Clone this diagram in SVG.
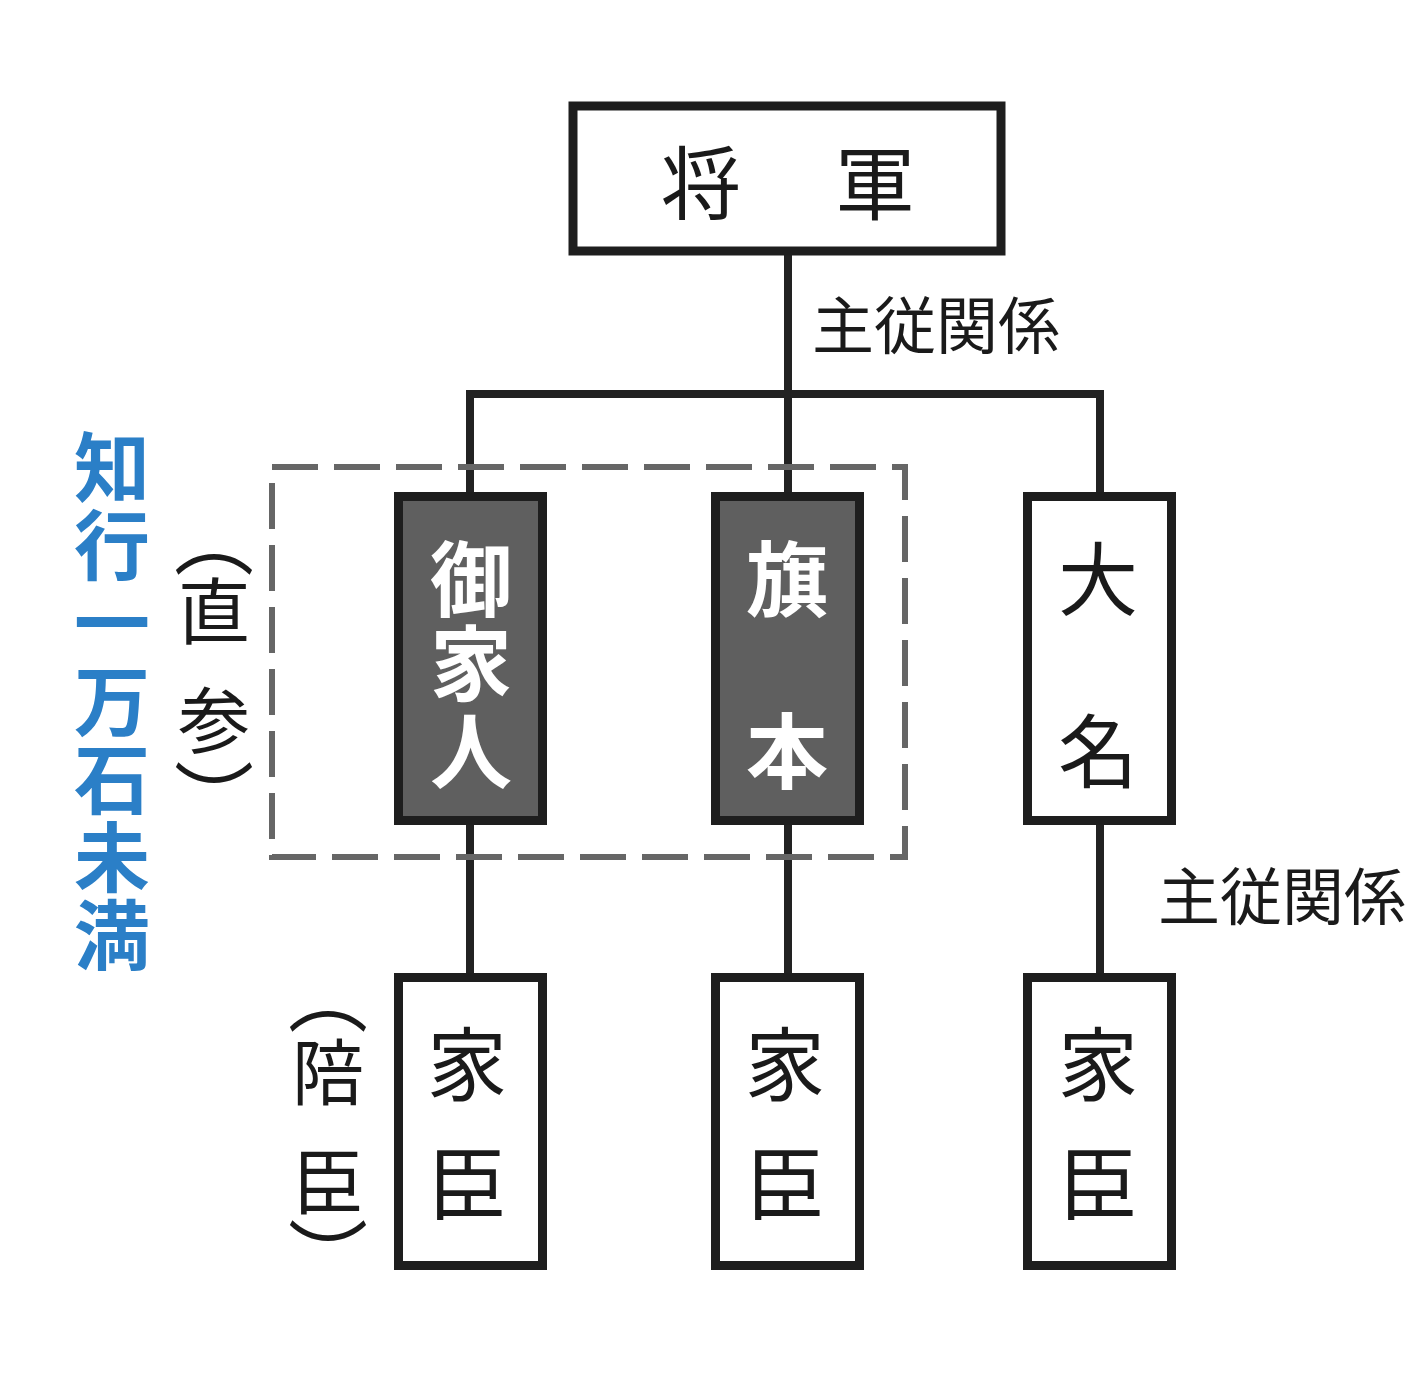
<svg xmlns="http://www.w3.org/2000/svg" width="1416" height="1400" viewBox="0 0 1416 1400">
<style>
.t{font-family:"Noto Sans CJK JP","Noto Sans CJK SC",sans-serif;text-anchor:middle;dominant-baseline:central}
.box{fill:#ffffff;stroke:#1e1e1e;stroke-width:9}
.dark{fill:#5f5f5f;stroke:#1e1e1e;stroke-width:9}
.bk{fill:#1a1a1a;font-size:80px}
.wh{fill:#ffffff;font-size:82px;font-weight:700}
.lbl{fill:#1a1a1a;font-size:62px}
.blue{fill:#2b7fc7;font-size:76px;font-weight:700}
.par{fill:#1a1a1a;font-size:72px}
.pa{fill:#1a1a1a;font-size:80px}
.conn line{stroke:#222;stroke-width:8}
</style>
<rect width="1416" height="1400" fill="#ffffff"/>
<g class="conn" id="connectors">
<line x1="788" y1="250" x2="788" y2="394"/>
<line x1="466" y1="394" x2="1104" y2="394"/>
<line x1="470" y1="390" x2="470" y2="494"/>
<line x1="788" y1="390" x2="788" y2="494"/>
<line x1="1100" y1="390" x2="1100" y2="494"/>
<line x1="470" y1="822" x2="470" y2="976"/>
<line x1="788" y1="822" x2="788" y2="976"/>
<line x1="1100" y1="822" x2="1100" y2="976"/>
</g>
<g id="jikisan-frame">
<rect x="272" y="467" width="633" height="390" fill="none" stroke="#666" stroke-width="6" stroke-dasharray="46 16"/>
</g>
<g id="shogun">
<rect class="box" x="573" y="106" width="428" height="145"/>
<text class="t bk" x="701" y="178" font-size="84">将</text>
<text class="t bk" x="875" y="178" font-size="84">軍</text>
</g>
<text class="t lbl" x="936" y="322">主従関係</text>
<g id="gokenin">
<rect class="dark" x="398.5" y="496.5" width="144" height="324"/>
<text class="t wh" x="471" y="574">御</text>
<text class="t wh" x="471" y="658">家</text>
<text class="t wh" x="471" y="746">人</text>
</g>
<g id="hatamoto">
<rect class="dark" x="715.5" y="496.5" width="144" height="324"/>
<text class="t wh" x="787" y="574">旗</text>
<text class="t wh" x="787" y="746">本</text>
</g>
<g id="daimyo">
<rect class="box" x="1027.5" y="496.5" width="144" height="324"/>
<text class="t bk" x="1098" y="574">大</text>
<text class="t bk" x="1098" y="746">名</text>
</g>
<text class="t lbl" x="1282" y="893" fill="#333">主従関係</text>
<g id="kashin1">
<rect class="box" x="398.5" y="977.5" width="144" height="288"/>
<text class="t bk" x="467" y="1059">家</text>
<text class="t bk" x="467" y="1178">臣</text>
</g>
<g id="kashin2">
<rect class="box" x="715.5" y="977.5" width="144" height="288"/>
<text class="t bk" x="785" y="1059">家</text>
<text class="t bk" x="785" y="1178">臣</text>
</g>
<g id="kashin3">
<rect class="box" x="1027.5" y="977.5" width="144" height="288"/>
<text class="t bk" x="1098" y="1059">家</text>
<text class="t bk" x="1098" y="1178">臣</text>
</g>
<g id="jikisan-label">
<text class="t pa" x="214" y="533">︵</text>
<text class="t par" x="214" y="606">直</text>
<text class="t par" x="214" y="715">参</text>
<text class="t pa" x="214" y="794">︶</text>
</g>
<g id="baishin-label">
<text class="t pa" x="328" y="990">︵</text>
<text class="t par" x="328" y="1067">陪</text>
<text class="t par" x="328" y="1176">臣</text>
<text class="t pa" x="328" y="1252">︶</text>
</g>
<g id="chigyo-label">
<text class="t blue" x="112" y="463">知</text>
<text class="t blue" x="112" y="541">行</text>
<text class="t blue" x="112" y="619">一</text>
<text class="t blue" x="112" y="697">万</text>
<text class="t blue" x="112" y="775">石</text>
<text class="t blue" x="112" y="853">未</text>
<text class="t blue" x="112" y="931">満</text>
</g>
</svg>
